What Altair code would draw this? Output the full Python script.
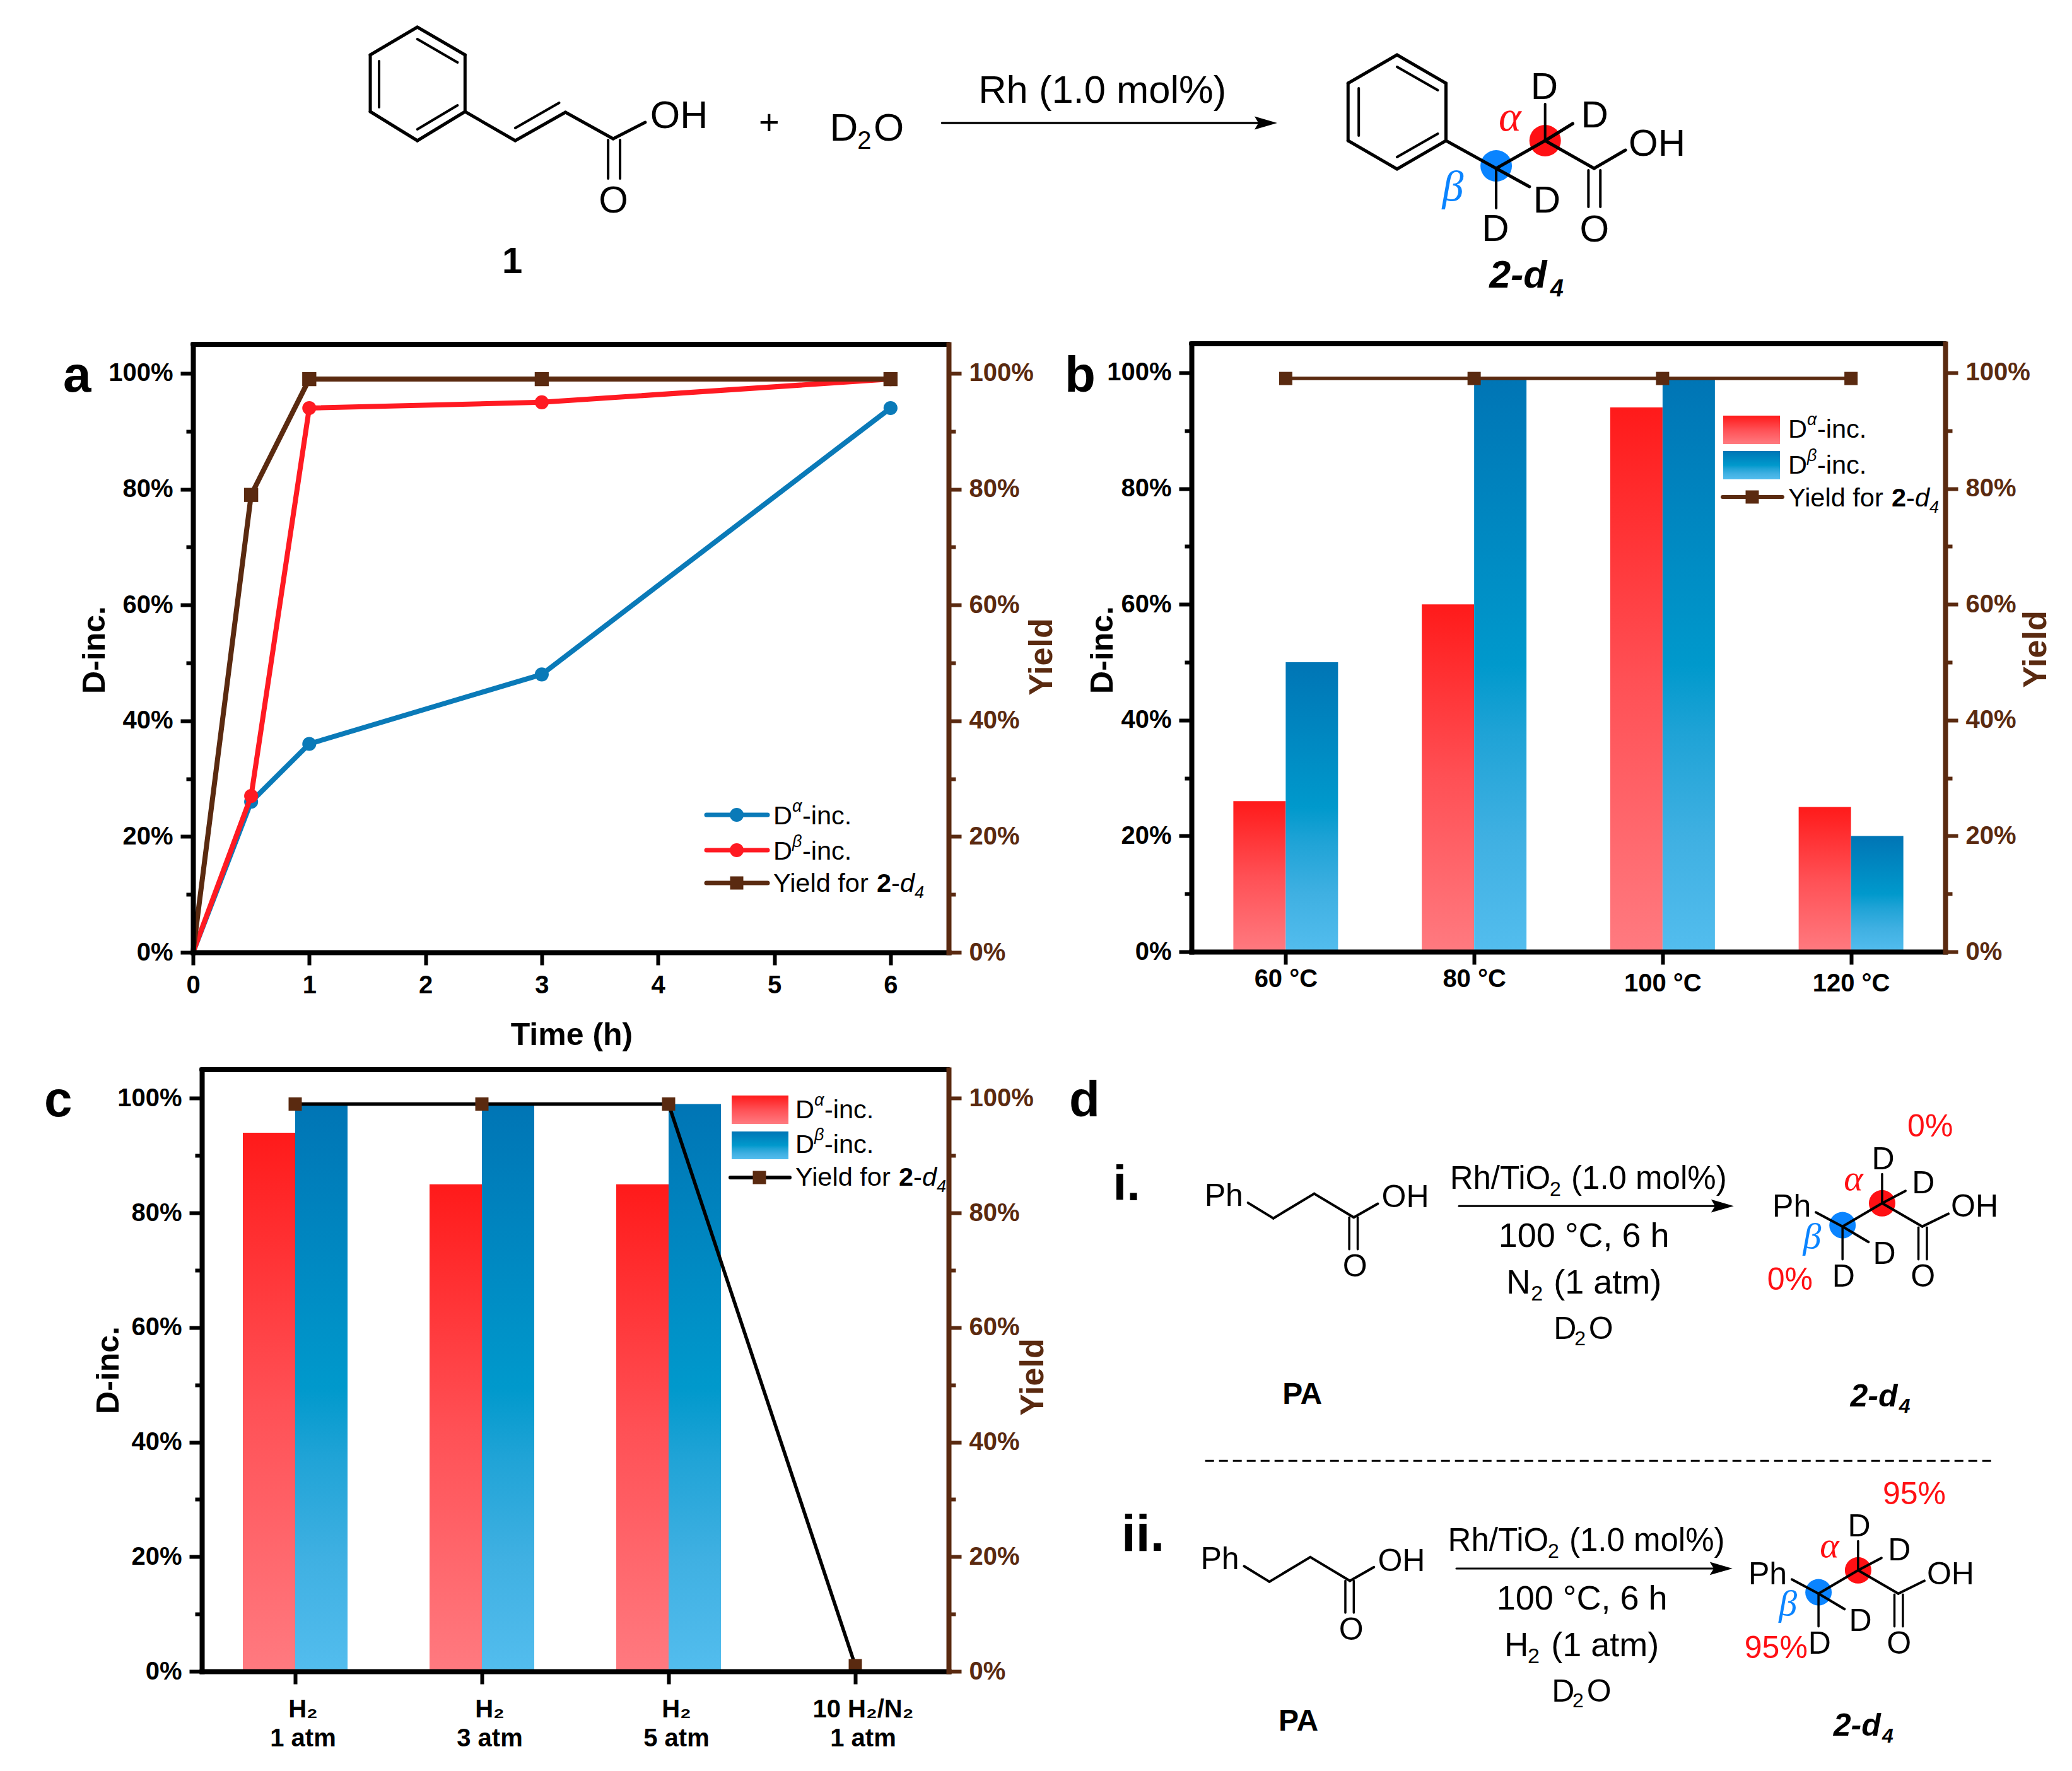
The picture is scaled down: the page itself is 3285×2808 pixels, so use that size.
import altair as alt
import pandas as pd

W, H = 3269, 2792
M = 8
FONT = "Liberation Sans"
GREEK = "Liberation Serif"
BROWN = "#5a2a10"
BLUE = "#0a7ab8"
RED = "#ff1a22"
DOTBLUE = "#0a84ff"
DOTRED = "#ff1014"

# ---- data ----
time_h = [0, 0.5, 1, 3, 6]
a_alpha = [0, 26, 36, 48, 94]
a_beta = [0, 27, 94, 95, 99]
a_yield = [0, 79, 99, 99, 99]

temps = ["60 °C", "80 °C", "100 °C", "120 °C"]
b_alpha = [26, 60, 94, 25]
b_beta = [50, 99, 99, 20]
b_yield = [99, 99, 99, 99]

gases = ["H₂|1 atm", "H₂|3 atm", "H₂|5 atm", "10 H₂/N₂|1 atm"]
c_alpha = [94, 85, 85, 0]
c_beta = [99, 99, 99, 0]
c_yield = [99, 99, 99, 1]

pct_values = list(range(0, 101, 10))
PANEL_A = dict(x=(306, 1504), y=(1510, 546))
PANEL_B = dict(x=(1889, 3084), y=(1509, 545))
PANEL_C = dict(x=(320, 1504), y=(2650, 1696))

RED_GRAD = alt.LinearGradient(gradient="linear", x1=0, x2=0, y1=0, y2=1, stops=[
    alt.GradientStop(offset=0, color="#ff1a1a"),
    alt.GradientStop(offset=0.5, color="#ff5055"),
    alt.GradientStop(offset=1, color="#ff7a80")])
BLUE_GRAD = alt.LinearGradient(gradient="linear", x1=0, x2=0, y1=0, y2=1, stops=[
    alt.GradientStop(offset=0, color="#0075b5"),
    alt.GradientStop(offset=0.5, color="#0099cc"),
    alt.GradientStop(offset=0.62, color="#1fa3d6"),
    alt.GradientStop(offset=0.8, color="#3fb0e2"),
    alt.GradientStop(offset=1, color="#53bdee")])


def R(v):
    return v - M


def pct_axis(orient, xpos, color, title, title_x, title_y, title_size):
    off = -R(xpos) if orient == "left" else -(W - R(xpos))
    return alt.Axis(
        orient=orient, offset=off, values=pct_values, grid=False, zindex=1,
        labelExpr="datum.value % 20 === 0 ? datum.value + '%' : ''",
        labelFont=FONT, labelFontSize=40, labelFontWeight="bold", labelColor=color,
        labelPadding=12, labelOverlap=False, labelBound=False, labelFlush=False,
        tickSize={"condition": {"test": "datum.value % 20 === 0", "value": 20}, "value": 11},
        tickWidth=6, tickColor=color, domainColor=color, domainWidth=8, domainCap="square",
        title=title, titleFont=FONT, titleFontSize=title_size, titleFontWeight="bold", titleColor=color,
        titleAngle=270, titleBaseline="middle", titleAlign="center",
        titleX=title_x - xpos, titleY=R(title_y))


def yscale(p):
    return alt.Scale(domain=[0, 105], range=[R(p["y"][0]), R(p["y"][1])], nice=False, zero=False)


def x_axis_common(p, **kw):
    return alt.Axis(orient="bottom", offset=-(H - R(p["y"][0])), grid=False, zindex=1,
                    labelFont=FONT, labelFontSize=40, labelFontWeight="bold", labelColor="#000000",
                    labelOverlap=False, labelBound=False, labelFlush=False,
                    tickSize=20, tickWidth=6, tickColor="#000000",
                    domainColor="#000000", domainWidth=8, domainCap="square", **kw)


layers = []

# ---- panel a ----
df_a = pd.DataFrame({"t": time_h, "alpha": a_alpha, "beta": a_beta, "yld": a_yield})
df_a_pts = df_a[df_a.t > 0]
xs_a = alt.Scale(domain=[0, 6.5], range=[R(306), R(1504)], nice=False, zero=False)
ax_a = x_axis_common(PANEL_A, values=[0, 1, 2, 3, 4, 5, 6], format="d", labelPadding=12,
                     title="Time (h)", titleFont=FONT, titleFontSize=50, titleFontWeight="bold",
                     titleColor="#000000", titleX=R(906), titleY=131, titleBaseline="middle")
layers.append(alt.Chart(df_a).mark_line(color=BLUE, strokeWidth=8).encode(
    x=alt.X("t:Q", scale=xs_a, axis=ax_a),
    y=alt.Y("alpha:Q", scale=yscale(PANEL_A), axis=pct_axis("left", 306, "#000000", "D-inc.", 150, 1030, 50))))
for field, col, shape, size, width, axis in [
    ("alpha", BLUE, "circle", 490, None, None),
    ("beta", RED, None, None, 8, None),
    ("beta", RED, "circle", 490, None, None),
    ("yld", BROWN, None, None, 8, pct_axis("right", 1504, BROWN, "Yield", 1651, 1041, 52)),
    ("yld", BROWN, "square", 500, None, None),
]:
    if shape is None:
        m = alt.Chart(df_a).mark_line(color=col, strokeWidth=width)
    else:
        m = alt.Chart(df_a_pts).mark_point(color=col, filled=True, opacity=1, shape=shape, size=size)
    layers.append(m.encode(x=alt.X("t:Q", scale=xs_a, axis=None),
                           y=alt.Y(field + ":Q", scale=yscale(PANEL_A), axis=axis)))


# ---- bar panels b and c ----
def bar_panel(p, cats, alpha, beta, yld, linecolor, title_left, title_right, axis_kw):
    df = pd.DataFrame({"cat": cats, "alpha": alpha, "beta": beta, "yld": yld})
    xs = alt.Scale(type="point", domain=cats, range=[R(p["x"][0]), R(p["x"][1])], padding=0.5)
    out = []
    sort = cats
    out.append(alt.Chart(df).mark_bar(size=83, xOffset=-41.5, color=RED_GRAD).encode(
        x=alt.X("cat:N", scale=xs, sort=sort, axis=x_axis_common(p, title=None, labelAngle=0, **axis_kw)),
        y=alt.Y("alpha:Q", stack=None, scale=yscale(p),
                axis=pct_axis("left", p["x"][0], "#000000", "D-inc.", *title_left, 50))))
    out.append(alt.Chart(df).mark_bar(size=83, xOffset=41.5, color=BLUE_GRAD).encode(
        x=alt.X("cat:N", scale=xs, sort=sort, axis=None),
        y=alt.Y("beta:Q", stack=None, scale=yscale(p), axis=None)))
    out.append(alt.Chart(df).mark_line(color=linecolor, strokeWidth=5.5).encode(
        x=alt.X("cat:N", scale=xs, sort=sort, axis=None),
        y=alt.Y("yld:Q", scale=yscale(p),
                axis=pct_axis("right", p["x"][1], BROWN, "Yield", *title_right, 52))))
    out.append(alt.Chart(df).mark_point(color=BROWN, filled=True, opacity=1, shape="square", size=440).encode(
        x=alt.X("cat:N", scale=xs, sort=sort, axis=None),
        y=alt.Y("yld:Q", scale=yscale(p), axis=None)))
    return out


layers += bar_panel(PANEL_B, temps, b_alpha, b_beta, b_yield, BROWN, (1748, 1030), (3227, 1029),
                    dict(labelPadding={"condition": {"test": "datum.index < 0.5", "value": 3}, "value": 10}))
layers += bar_panel(PANEL_C, gases, c_alpha, c_beta, c_yield, "#000000", (172, 2172), (1637, 2183),
                    dict(labelPadding=20, labelLineHeight=46, labelOffset=12,
                         labelExpr="split(datum.label, '|')"))

# ---- annotation primitives (scheme drawings, legends, panel letters) ----
texts, segs, dots, heads, swatches = [], [], [], [], []
OFF = [0.0, 0.0, 1.0]  # shift x, shift y, x scale of the section being drawn


def _x(x):
    return x * OFF[2] + OFF[0]


def _y(y):
    return y + OFF[1]


def T(x, y, s, size=60, color="#000000", bold=False, italic=False, font=FONT):
    texts.append(dict(x=_x(x), y=_y(y), s=s, size=size, color=color,
                      weight="bold" if bold else "normal",
                      style="italic" if italic else "normal", font=font))


def S(x1, y1, x2, y2, w=4, color="#000000", dash=""):
    segs.append(dict(x=_x(x1), y=_y(y1), x2=_x(x2), y2=_y(y2), w=w, color=color, dash=dash))


def DOT(x, y, c, shape, size):
    dots.append(dict(x=_x(x), y=_y(y), c=c, shape=shape, size=size))


def HEAD(x, y):
    heads.append(dict(x=_x(x), y=_y(y)))


def SW(x, x2, y, y2, g):
    swatches.append(dict(x=_x(x), x2=_x(x2), y=_y(y), y2=_y(y2), g=g))


def poly(pts, w=4):
    for a, b in zip(pts, pts[1:]):
        S(a[0], a[1], b[0], b[1], w)


# panel frame tops
for p in (PANEL_A, PANEL_B, PANEL_C):
    S(p["x"][0], p["y"][1], p["x"][1], p["y"][1], 8)

# panel letters
T(100, 621, "a", 80, bold=True)
T(1688, 621, "b", 80, bold=True)
T(70, 1770, "c", 80, bold=True)
T(1695, 1770, "d", 80, bold=True)


def legend_text(x, y1, y2, y3, size=41.5):
    T(x, y1, "D", size); T(x + 30, y1 - 20, "α", 27, italic=True); T(x + 46, y1, "-inc.", size)
    T(x, y2, "D", size); T(x + 30, y2 - 20, "β", 27, italic=True); T(x + 46, y2, "-inc.", size)
    T(x, y3, "Yield for ", size); T(x + 164, y3, "2", size, bold=True)
    T(x + 187, y3, "-", size); T(x + 201, y3, "d", size, italic=True)
    T(x + 224, y3 + 10, "4", 27, italic=True)


# legend a
OFF[:] = [-6, -6, 1.0]
S(1126, 1298, 1223, 1298, 7, BLUE); DOT(1174, 1298, BLUE, "circle", 490)
S(1126, 1354, 1223, 1354, 7, RED); DOT(1174, 1354, RED, "circle", 490)
S(1126, 1406, 1223, 1406, 7, BROWN); DOT(1174, 1406, BROWN, "square", 440)
legend_text(1232, 1313, 1369, 1420)

# legend b
OFF[:] = [-8, 0, 1.0]
SW(2740, 2830, 659, 704, "r")
SW(2740, 2830, 715, 760, "b")
S(2739, 788, 2834, 788, 6, BROWN); DOT(2786, 788, BROWN, "square", 440)
legend_text(2843, 694, 751, 803)

# legend c
OFF[:] = [-8, 0, 1.0]
SW(1168, 1258, 1737, 1782, "r")
SW(1168, 1258, 1794, 1838, "b")
S(1166, 1867, 1260, 1867, 6, "#000000"); DOT(1212, 1867, BROWN, "square", 440)
legend_text(1269, 1773, 1828, 1880)

# ---- top scheme ----
OFF[:] = [0, 0, 0.995]
poly([(665, 43), (741, 87), (741, 177), (665, 223), (590, 177), (590, 87), (665, 43)], 5)
S(665, 62, 729, 99, 4); S(604, 97, 604, 170, 4); S(665, 205, 729, 167, 4)
poly([(741, 177), (821, 223), (901, 178), (977, 220), (1028, 194)], 5)
S(821, 203, 891, 163, 4)
S(969, 222, 969, 283, 4); S(988, 222, 988, 283, 4)
T(1036, 203, "OH", 61); T(954, 337, "O")
T(1209, 213, "+", 56)
T(1322, 223, "D", 62); T(1366, 236, "2", 40); T(1392, 223, "O", 62)
S(1501, 195, 2012, 195, 3.5)
HEAD(2017, 195)
T(1559, 163, "Rh (1.0 mol%)", 61.5)

DOT(2462, 223, DOTRED, "circle", 2500)
DOT(2384, 263, DOTBLUE, "circle", 2500)
poly([(2226, 87), (2304, 132), (2304, 223), (2226, 268), (2148, 223), (2148, 132), (2226, 87)], 5)
S(2226, 106, 2291, 143, 4); S(2165, 140, 2165, 215, 4); S(2226, 249, 2291, 212, 4)
poly([(2304, 223), (2384, 267), (2462, 223), (2540, 267), (2590, 238)], 5)
S(2531, 270, 2531, 328, 4); S(2550, 270, 2550, 328, 4)
S(2462, 223, 2462, 165, 4); S(2462, 223, 2506, 196, 5)
S(2384, 267, 2384, 330, 4); S(2384, 267, 2437, 296, 5)
T(2595, 247, "OH"); T(2517, 383, "O")
T(2439, 157, "D"); T(2519, 202, "D"); T(2361, 382, "D"); T(2443, 337, "D")
T(2388, 207, "α", 68, DOTRED, italic=True, font=GREEK)
T(2298, 318, "β", 68, DOTBLUE, italic=True, font=GREEK)
T(800, 433, "1", 58, bold=True)
T(2373, 456, "2-d", 61, bold=True, italic=True); T(2470, 470, "4", 38, bold=True, italic=True)

# ---- panel d ----
OFF[:] = [-7, -5, 1.0]


def dx(z):
    return 1680 + z * 1.029


def dy(z):
    return 1680 + z * 0.723


def left_mol(sx, sy):
    P = lambda a, b: (dx(a + sx), dy(b + sy))
    poly([P(297, 318), P(336, 352), P(399, 298), P(460, 350), P(497, 320)], 4)
    S(*P(453, 350), *P(453, 420), 3.5); S(*P(466, 350), *P(466, 420), 3.5)
    T(*P(230, 325), "Ph", 50); T(*P(503, 328), "OH", 50); T(*P(443, 480), "O", 50)


def right_mol(sx, sy):
    P = lambda a, b: (dx(a + sx), dy(b + sy))
    for (a, b, c) in [(1274, 322, DOTRED), (1213, 370, DOTBLUE)]:
        x, y = P(a, b)
        DOT(x, y, c, "circle", 1760)
    poly([P(1172, 342), P(1213, 373), P(1274, 322), P(1336, 373), P(1376, 345)], 4)
    S(*P(1330, 375), *P(1330, 445), 3.5); S(*P(1343, 375), *P(1343, 445), 3.5)
    S(*P(1274, 322), *P(1274, 258), 3.5); S(*P(1274, 322), *P(1310, 295), 4)
    S(*P(1213, 373), *P(1213, 445), 3.5); S(*P(1213, 373), *P(1253, 407), 4)
    T(*P(1105, 352), "Ph", 50); T(*P(1380, 352), "OH", 50); T(*P(1318, 505), "O", 50)
    T(*P(1258, 248), "D", 50); T(*P(1320, 300), "D", 50)
    T(*P(1197, 505), "D", 50); T(*P(1260, 455), "D", 50)
    T(*P(1215, 293), "α", 58, DOTRED, italic=True, font=GREEK)
    T(*P(1152, 420), "β", 58, DOTBLUE, italic=True, font=GREEK)


def conditions(sx, sy, gas, gx, subx, restx):
    P = lambda a, b: (dx(a + sx), dy(b + sy))
    T(*P(608, 290), "Rh/TiO", 51); T(*P(762, 305), "2", 32); T(*P(795, 290), "(1.0 mol%)", 51)
    T(*P(683, 418), "100 °C, 6 h", 54)
    T(dx(gx), dy(520 + sy), gas, 53); T(dx(subx), dy(535 + sy), "2", 34); T(dx(restx), dy(520 + sy), "(1 atm)", 54)
    T(*P(768, 620), "D", 50); T(*P(800, 633), "2", 32); T(*P(822, 620), "O", 50)


left_mol(0, 3)
left_mol(-6, 800)
right_mol(0, 0)
right_mol(-37, 805)
conditions(0, 0, "N", 695, 733, 768)
conditions(-3, 795, "H", 692, 728, 764)
S(dx(622), dy(328), dx(1019), dy(328), 3)
HEAD(dx(1028), dy(328))
S(dx(618), dy(1123), dx(1017), dy(1123), 3)
HEAD(dx(1026), dy(1123))
T(dx(1313), dy(175), "0%", 50, DOTRED); T(dx(1097), dy(512), "0%", 50, DOTRED)
T(dx(1275), dy(982), "95%", 50, DOTRED); T(dx(1062), dy(1320), "95%", 50, DOTRED)
S(dx(231), dy(887), dx(1443), dy(887), 3, dash="14,8")
T(dx(350), dy(762), "PA", 48, bold=True); T(dx(344), dy(1478), "PA", 48, bold=True)
T(dx(1225), dy(767), "2-d", 50, bold=True, italic=True); T(dx(1300), dy(782), "4", 32, bold=True, italic=True)
T(dx(1199), dy(1490), "2-d", 50, bold=True, italic=True); T(dx(1274), dy(1505), "4", 32, bold=True, italic=True)
T(dx(89), dy(315), "i.", 78, bold=True); T(dx(102), dy(1085), "ii.", 82, bold=True)

# ---- layers for the primitives, on a scale in figure pixels ----
PX = alt.Scale(domain=[M, W + M], range=[0, W], nice=False, zero=False)
PY = alt.Scale(domain=[M, H + M], range=[0, H], nice=False, zero=False)
X = alt.X("x:Q", scale=PX, axis=None)
Y = alt.Y("y:Q", scale=PY, axis=None)

df_dots = pd.DataFrame(dots)
for (c, shape, size), g in df_dots.groupby(["c", "shape", "size"]):
    if size > 1000:
        layers.append(alt.Chart(g).mark_point(color=c, filled=True, opacity=1, shape=shape, size=float(size)).encode(x=X, y=Y))

df_sw = pd.DataFrame(swatches)
for g_key, grad in [("r", RED_GRAD), ("b", BLUE_GRAD)]:
    layers.append(alt.Chart(df_sw[df_sw.g == g_key]).mark_rect(color=grad).encode(x=X, x2="x2:Q", y=Y, y2="y2:Q"))

df_seg = pd.DataFrame(segs)
for (w, c, d), g in df_seg.groupby(["w", "color", "dash"]):
    kw = dict(strokeDash=[float(v) for v in d.split(",")]) if d else dict(strokeCap="round")
    layers.append(alt.Chart(g).mark_rule(color=c, strokeWidth=float(w), **kw).encode(x=X, x2="x2:Q", y=Y, y2="y2:Q"))

for (c, shape, size), g in df_dots.groupby(["c", "shape", "size"]):
    if size <= 1000:
        layers.append(alt.Chart(g).mark_point(color=c, filled=True, opacity=1, shape=shape, size=float(size)).encode(x=X, y=Y))

layers.append(alt.Chart(pd.DataFrame(heads)).mark_point(
    color="#000000", filled=True, opacity=1, shape="M-1,-0.58L1,0L-1,0.58L-0.65,0Z", size=1296).encode(x=X, y=Y))

df_txt = pd.DataFrame(texts)
for (size, color, weight, style, font), g in df_txt.groupby(["size", "color", "weight", "style", "font"]):
    layers.append(alt.Chart(g).mark_text(
        align="left", baseline="alphabetic", fontSize=float(size), color=color,
        fontWeight=weight, fontStyle=style, font=font).encode(x=X, y=Y, text="s:N"))

chart = alt.layer(*layers).resolve_scale(x="independent", y="independent").properties(
    width=W, height=H, padding=0, autosize=alt.AutoSizeParams(type="none"), background="white"
).configure_view(strokeWidth=0)

chart.save("out.html", embed_options={"renderer": "svg", "actions": False})
